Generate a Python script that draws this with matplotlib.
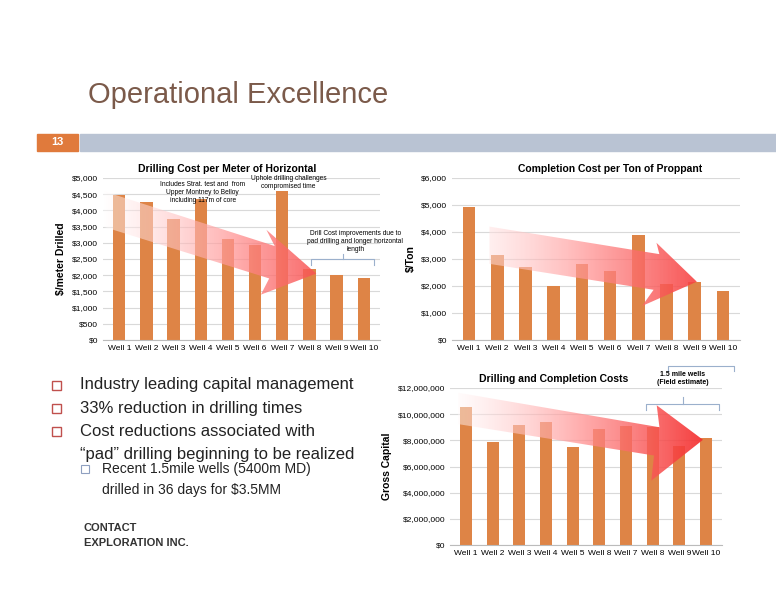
import matplotlib
matplotlib.use("Agg")
import matplotlib.pyplot as plt
import numpy as np
from matplotlib.patches import Polygon, Rectangle
from matplotlib.colors import LinearSegmentedColormap

plt.rcParams['font.family'] = ['Liberation Sans', 'DejaVu Sans']

wells = ["Well 1","Well 2","Well 3","Well 4","Well 5","Well 6","Well 7","Well 8","Well 9","Well 10"]
drill_cost = [4480, 4250, 3730, 4350, 3130, 2930, 4600, 2200, 2000, 1920]
comp_cost = [4920, 3130, 2700, 2000, 2830, 2570, 3880, 2080, 2130, 1800]
dc_cost = [10550000, 7900000, 9200000, 9400000, 7500000, 8900000, 9100000, 9000000, 7600000, 8200000]
dc_labels = ["Well 1","Well 2","Well 3","Well 4","Well 5","Well 8","Well 7","Well 8","Well 9","Well 10"]

W, H = 776, 600
fig = plt.figure(figsize=(7.76, 6.0), dpi=100)
BAR = "#de8446"

def ax_px(x0, y0, x1, y1):
    return fig.add_axes([x0/W, 1-y1/H, (x1-x0)/W, (y1-y0)/H])

# header
fig.text(88/W, 1-95/H, "Operational Excellence", fontsize=21, color="#7b5a4a", va="center")
fig.patches.append(Rectangle((37/W, 1-151/H), 41/W, 17/H, transform=fig.transFigure, color="#e07a3c"))
fig.patches.append(Rectangle((80/W, 1-151/H), 696/W, 17/H, transform=fig.transFigure, color="#b9c3d3"))
fig.text(57/W, 1-142/H, "13", fontsize=8, color="white", weight="bold", ha="center", va="center")

cm = LinearSegmentedColormap.from_list("g", [(1, 1, 1, 0.45), (1, 0.55, 0.55, 0.75), (0.95, 0.12, 0.12, 0.95)])

def arrow(ax, pts):
    poly = Polygon(pts, closed=True, transform=ax.transAxes, facecolor="none", edgecolor="none")
    ax.add_patch(poly)
    grad = np.linspace(0, 1, 256)[None, :]
    im = ax.imshow(grad, cmap=cm, extent=[0, 1, 0, 1], transform=ax.transAxes, aspect="auto", zorder=3)
    im.set_clip_path(poly)

def style(ax, maxv, step, ylabel, title, tx=0.5):
    ax.set_ylim(0, maxv)
    ax.set_xlim(-0.6, 9.6)
    ax.set_yticks(np.arange(0, maxv+1, step))
    ax.set_yticklabels([f"${int(v):,}" for v in np.arange(0, maxv+1, step)], fontsize=6)
    ax.tick_params(axis="x", labelsize=6, length=0)
    ax.tick_params(axis="y", length=0)
    ax.grid(axis="y", color="#d9d9d9", lw=0.8)
    ax.set_axisbelow(True)
    for s in ["top", "right", "left"]:
        ax.spines[s].set_visible(False)
    ax.spines["bottom"].set_color("#bbbbbb")
    ax.set_ylabel(ylabel, fontsize=7.5, weight="bold")
    ax.set_title(title, fontsize=7.5, weight="bold", pad=4, x=tx)

# chart 1
ax1 = ax_px(103, 178, 380, 340)
ax1.bar(range(10), drill_cost, width=0.45, color=BAR)
style(ax1, 5000, 500, "$/meter Drilled", "Drilling Cost per Meter of Horizontal", 0.45)
ax1.set_xticks(range(10)); ax1.set_xticklabels(wells)
arrow(ax1, [(0.0, 0.92), (0.62, 0.58), (0.59, 0.68), (0.77, 0.41), (0.57, 0.28), (0.60, 0.38), (0.0, 0.70)])
ax1.text(0.36, 0.98, "Includes Strat. test and  from\nUpper Montney to Belloy\nincluding 117m of core", transform=ax1.transAxes, fontsize=4.8, ha="center", va="top", linespacing=1.2)
ax1.text(0.67, 1.02, "Uphole drilling challenges\ncompromised time", transform=ax1.transAxes, fontsize=4.8, ha="center", va="top", linespacing=1.2)
ax1.text(0.91, 0.68, "Drill Cost improvements due to\npad drilling and longer horizontal\nlength", transform=ax1.transAxes, fontsize=4.8, ha="center", va="top", linespacing=1.2)
ax1.plot([0.75, 0.75, 0.98, 0.98], [0.46, 0.50, 0.50, 0.46], transform=ax1.transAxes, color="#9bb0cc", lw=0.8)
ax1.plot([0.865, 0.865], [0.50, 0.53], transform=ax1.transAxes, color="#9bb0cc", lw=0.8)

# chart 2
ax2 = ax_px(452, 178, 740, 340)
ax2.bar(range(10), comp_cost, width=0.45, color=BAR)
style(ax2, 6000, 1000, "$/Ton", "Completion Cost per Ton of Proppant", 0.55)
ax2.set_xticks(range(10)); ax2.set_xticklabels(wells)
arrow(ax2, [(0.13, 0.70), (0.72, 0.53), (0.71, 0.60), (0.85, 0.36), (0.66, 0.21), (0.70, 0.31), (0.13, 0.47)])
ax2.plot([0.75, 0.75, 0.98, 0.98], [-0.19, -0.16, -0.16, -0.19], transform=ax2.transAxes, color="#9bb0cc", lw=0.8, clip_on=False)

# chart 3
ax3 = ax_px(450, 388, 722, 545)
ax3.bar(range(10), dc_cost, width=0.45, color=BAR)
style(ax3, 12000000, 2000000, "Gross Capital", "Drilling and Completion Costs", 0.38)
ax3.set_xticks(range(10)); ax3.set_xticklabels(dc_labels)
arrow(ax3, [(0.03, 0.97), (0.77, 0.75), (0.76, 0.89), (0.93, 0.67), (0.74, 0.41), (0.75, 0.57), (0.03, 0.77)])
ax3.plot([0.72, 0.72, 0.99, 0.99], [0.86, 0.90, 0.90, 0.86], transform=ax3.transAxes, color="#9bb0cc", lw=0.8, clip_on=False)
ax3.plot([0.855, 0.855], [0.90, 0.94], transform=ax3.transAxes, color="#9bb0cc", lw=0.8, clip_on=False)
ax3.text(0.855, 1.06, "1.5 mile wells\n(Field estimate)", transform=ax3.transAxes, fontsize=5, weight="bold", ha="center", va="center")

# bullets
bul = [(385, "Industry leading capital management"), (408, "33% reduction in drilling times"),
       (431, "Cost reductions associated with"), (454, "\u201cpad\u201d drilling beginning to be realized")]
for i, (y, t) in enumerate(bul):
    if i < 3:
        fig.patches.append(Rectangle((52/W, 1-(y+5)/H), 9/W, 9/H, transform=fig.transFigure,
                                     facecolor="white", edgecolor="#c0504d", lw=1))
    fig.text(80/W, 1-y/H, t, fontsize=12, va="center", color="#222222")
fig.patches.append(Rectangle((81/W, 1-(473)/H), 8/W, 8/H, transform=fig.transFigure,
                             facecolor="white", edgecolor="#8fa0c0", lw=0.8))
fig.text(102/W, 1-469/H, "Recent 1.5mile wells (5400m MD)", fontsize=10, va="center", color="#222222")
fig.text(102/W, 1-490/H, "drilled in 36 days for $3.5MM", fontsize=10, va="center", color="#222222")

# logo
fig.text(84/W, 1-528/H, "CONTACT", fontsize=8, weight="bold", color="#333333", va="center")
fig.text(84/W, 1-543/H, "EXPLORATION INC.", fontsize=8, weight="bold", color="#333333", va="center")

fig.savefig("out.png", dpi=100, facecolor="white")
